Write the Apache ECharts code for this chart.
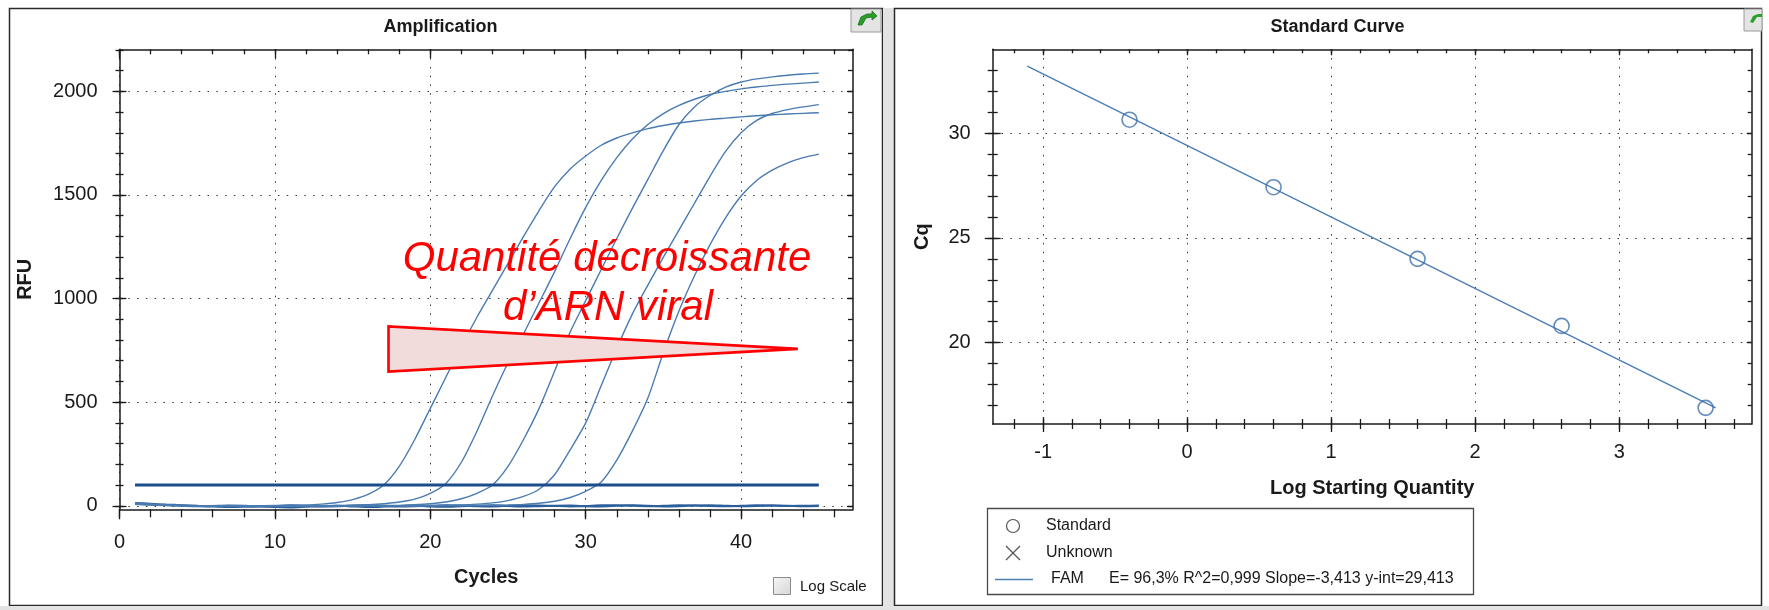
<!DOCTYPE html>
<html><head><meta charset="utf-8">
<script src="https://cdn.jsdelivr.net/npm/echarts@6/dist/echarts.min.js"></script>
<style>html,body{margin:0;padding:0;background:#fff;overflow:hidden}#c{width:1769px;height:610px}</style>
</head><body><div id="c"></div>
<script>
// ---------- Amplification data ----------
const cycles = [1,2,3,4,5,6,7,8,9,10,11,12,13,14,15,16,17,18,19,20,21,22,23,24,25,26,27,28,29,30,31,32,33,34,35,36,37,38,39,40,41,42,43,44,45];
const curve1 = [12,8,4,2,0,-2,-3,-2,-1,0, 1,3,8,16,30,55,100,190,320,470, 620,770,910,1040,1170,1300,1425,1540,1625,1688, 1740,1775,1800,1820,1835,1847,1857,1865,1871,1877, 1882,1887,1891,1894,1897];
const curve2 = [10,7,3,1,-1,-3,-2,-1,0,-1, -2,-1,0,1,2,5,10,18,32,60, 108,210,360,530,690,830,980,1130,1290,1440, 1570,1680,1770,1840,1893,1932,1962,1985,2000,2012, 2021,2029,2035,2040,2045];
const curve3 = [11,6,2,0,-2,-1,0,-2,-3,-2, 0,1,0,-1,0,1,1,2,5,10, 18,34,60,100,190,320,470,650,838,990, 1140,1290,1435,1575,1715,1840,1925,1980,2020,2045, 2060,2070,2078,2084,2088];
const curve4 = [9,6,3,1,0,-2,-3,-1,0,1, 0,-2,-1,0,1,0,-1,0,1,1, 2,4,8,14,25,45,80,150,270,400, 580,760,925,1065,1200,1330,1460,1590,1710,1800, 1860,1893,1912,1925,1936];
const curve5 = [10,7,4,2,0,-1,-2,-3,-2,0, 1,0,-2,-1,0,2,1,0,-1,0, 1,0,1,2,4,7,12,22,40,70, 115,220,360,520,740,940,1110,1260,1390,1495, 1570,1620,1655,1680,1697];
const ntcA = [14,10,6,3,0,-4,-6,-5,-3,-6, -8,-5,-2,0,-3,-6,-4,-1,0,-3, -5,-2,0,2,-1,-4,-2,0,1,-2, -3,0,2,0,-3,-2,1,3,0,-2, -1,1,0,-2,-1];
const ntcB = [8,5,2,0,-2,-1,1,0,-2,-1, 2,0,-3,-2,1,2,-1,-3,-2,0, 2,1,-2,-3,0,2,1,-1,-3,-1, 2,3,0,-2,0,2,1,-1,-2,0, 2,1,-1,0,1];
const thresholdRFU = 100;
const thresholdCycles = [1, 45];
const wedgeCorners = [[17.31, 866], [17.31, 648], [43.65, 757]];
const cycleTicks = [0, 10, 20, 30, 40];
const cycleMinorTicks = [0,2,4,6,8,10,12,14,16,18,20,22,24,26,28,30,32,34,36,38,40,42,44,46];
const rfuTicks = [0, 500, 1000, 1500, 2000];
const rfuMinorTicks = [0,100,200,300,400,500,600,700,800,900,1000,1100,1200,1300,1400,1500,1600,1700,1800,1900,2000,2100,2200];

// ---------- Standard curve data ----------
const logQuantity = [-0.4, 0.6, 1.6, 2.6, 3.6];
const cqValues = [30.64, 27.42, 24.0, 20.80, 16.89];
const fitLine = [[-1.11, 33.20], [3.67, 16.89]];
const logTicks = [-1, 0, 1, 2, 3];
const logMinorTicks = [-1.2,-1,-0.8,-0.6,-0.4,-0.2,0,0.2,0.4,0.6,0.8,1,1.2,1.4,1.6,1.8,2,2.2,2.4,2.6,2.8,3,3.2,3.4,3.6,3.8];
const cqTicks = [20, 25, 30];
const cqMinorTicks = [17,18,19,20,21,22,23,24,25,26,27,28,29,30,31,32,33];
const legendItems = ['Standard', 'Unknown', 'FAM'];
const fitText = 'E= 96,3% R^2=0,999 Slope=-3,413 y-int=29,413';

const FONT = '"Liberation Sans", Arial, sans-serif';
const TXT = '#1a1a1a';
const AX = '#1a1a1a';
const CURVE = '#4a7bb0';

function pairs(xs, ys) { return xs.map((x, i) => [x, ys[i]]); }
const dotted = { show: true, lineStyle: { color: '#333333', width: 1, type: [1.5, 7.3] } };
const fmt = v => String(v);

function tickAxis(grid, pos, r, vals, inside, len, line) {
  return { gridIndex: grid, type: 'value', position: pos, min: r.min, max: r.max,
    axisLine: { show: !!line, onZero: false, lineStyle: { color: AX, width: 1.5 } },
    axisTick: { show: true, inside: inside, length: len, customValues: vals, lineStyle: { color: AX, width: 1.3 } },
    axisLabel: { show: false }, splitLine: { show: false }, minorTick: { show: false } };
}

function axisSet(grid, xr, yr, o) {
  const xs = [], ys = [];
  xs.push({ gridIndex: grid, type: 'value', position: 'bottom', min: xr.min, max: xr.max,
    axisLine: { show: true, onZero: false, lineStyle: { color: AX, width: 1.5 } },
    axisTick: { show: true, inside: false, length: o.bottom[0], customValues: xr.major, lineStyle: { color: AX, width: 1.3 } },
    axisLabel: { show: true, customValues: xr.major, formatter: fmt, margin: o.xLabelMargin, fontSize: 20, color: TXT, fontFamily: FONT },
    splitLine: dotted, minorTick: { show: false },
    name: o.xName, nameLocation: 'middle', nameGap: o.xNameGap, nameMoveOverlap: false,
    nameTextStyle: { fontSize: 20, fontWeight: 'bold', color: TXT, fontFamily: FONT } });
  xs.push(tickAxis(grid, 'bottom', xr, xr.minor, false, o.bottom[1]));
  if (o.bottomIn) {
    xs.push(tickAxis(grid, 'bottom', xr, xr.major, true, o.bottomIn[0]));
    xs.push(tickAxis(grid, 'bottom', xr, xr.minor, true, o.bottomIn[1]));
  }
  xs.push(tickAxis(grid, 'top', xr, xr.major, true, o.top[0], true));
  xs.push(tickAxis(grid, 'top', xr, xr.minor, true, o.top[1]));

  ys.push({ gridIndex: grid, type: 'value', position: 'left', min: yr.min, max: yr.max,
    axisLine: { show: true, onZero: false, lineStyle: { color: AX, width: 1.5 } },
    axisTick: { show: true, inside: false, length: o.left[0], customValues: yr.major, lineStyle: { color: AX, width: 1.3 } },
    axisLabel: { show: true, customValues: yr.major, formatter: fmt, margin: 22, fontSize: 20, color: TXT, fontFamily: FONT },
    splitLine: dotted, minorTick: { show: false },
    name: o.yName, nameLocation: 'middle', nameGap: o.yNameGap, nameMoveOverlap: false,
    nameTextStyle: { fontSize: 20, fontWeight: 'bold', color: TXT, fontFamily: FONT } });
  ys.push(tickAxis(grid, 'left', yr, yr.minor, false, o.left[1]));
  ys.push(tickAxis(grid, 'left', yr, yr.major, true, o.left[2]));
  ys.push(tickAxis(grid, 'left', yr, yr.minor, true, o.left[3]));
  ys.push(tickAxis(grid, 'right', yr, yr.major, true, o.right[0], true));
  ys.push(tickAxis(grid, 'right', yr, yr.minor, true, o.right[1]));
  return { xs, ys };
}

const A = axisSet(0,
  { min: 0, max: 47.2, major: cycleTicks, minor: cycleMinorTicks },
  { min: -17, max: 2203, major: rfuTicks, minor: rfuMinorTicks },
  { bottom: [10, 8], xLabelMargin: 23, xName: 'Cycles', xNameGap: 58,
    top: [9, 5], left: [7, 4, 7, 4], right: [6, 5], yName: 'RFU', yNameGap: 84 });
const B = axisSet(1,
  { min: -1.35, max: 3.92, major: logTicks, minor: logMinorTicks },
  { min: 16.12, max: 34.0, major: cqTicks, minor: cqMinorTicks },
  { bottom: [8, 5], bottomIn: [7, 5], xLabelMargin: 18, xName: 'Log Starting Quantity', xNameGap: 54,
    top: [6, 4], left: [8, 5, 8, 5], right: [5, 4], yName: 'Cq', yNameGap: 60 });

const xAxis = A.xs.concat(B.xs);
const yAxis = A.ys.concat(B.ys);
const bX = A.xs.length, bY = A.ys.length;

const ampSeries = [curve1, curve2, curve3, curve4, curve5].map((c, i) => ({
  type: 'line', name: 'S' + (i + 1), xAxisIndex: 0, yAxisIndex: 0, data: pairs(cycles, c),
  showSymbol: false, symbol: 'none', smooth: 0.25, clip: true, silent: true,
  lineStyle: { color: CURVE, width: 1.4 }, z: 3 }));
const ntcSeries = [ntcA, ntcB].map((c, i) => ({
  type: 'line', name: 'NTC' + (i + 1), xAxisIndex: 0, yAxisIndex: 0, data: pairs(cycles, c),
  symbol: 'none', smooth: 0.25, silent: true, lineStyle: { color: '#2c5f9c', width: 2 }, z: 3 }));

const option = {
  animation: false,
  backgroundColor: '#ffffff',
  grid: [
    { left: 119.5, top: 49.3, width: 733.5, height: 460, outerBoundsMode: 'none', containLabel: false },
    { left: 992.7, top: 49.3, width: 759, height: 374.7, outerBoundsMode: 'none', containLabel: false }
  ],
  xAxis, yAxis,
  series: [
    ...ntcSeries,
    ...ampSeries,
    { type: 'line', name: 'threshold', xAxisIndex: 0, yAxisIndex: 0, symbol: 'none', silent: true,
      data: thresholdCycles.map(c => [c, thresholdRFU]), lineStyle: { color: '#1b4d8a', width: 3 }, z: 4 },
    { type: 'custom', name: 'wedge', xAxisIndex: 0, yAxisIndex: 0, silent: true, z: 5,
      data: [0],
      renderItem: (params, api) => ({
        type: 'polygon',
        shape: { points: wedgeCorners.map(p => api.coord(p)) },
        style: { fill: '#f2dcdb', stroke: '#ff0000', lineWidth: 2.6 }
      }) },
    { type: 'line', name: 'FAM', xAxisIndex: bX, yAxisIndex: bY, symbol: 'none', silent: true,
      data: fitLine, lineStyle: { color: '#4d7fb3', width: 1.5 }, z: 3 },
    { type: 'scatter', name: 'Standard', xAxisIndex: bX, yAxisIndex: bY, silent: true,
      data: pairs(logQuantity, cqValues), symbol: 'circle', symbolSize: 15,
      itemStyle: { color: 'rgba(255,255,255,0)', borderColor: '#3d70aa', borderWidth: 1.6 }, z: 4 }
  ],
  graphic: [
    { type: 'rect', shape: { x: 9.5, y: 8.5, width: 873, height: 597 }, style: { fill: 'none', stroke: '#2a2a2a', lineWidth: 1.5 }, z: 50 },
    { type: 'rect', shape: { x: 883, y: 8, width: 11, height: 598 }, style: { fill: '#e3e3e3' }, z: 50 },
    { type: 'rect', shape: { x: 894.5, y: 8.5, width: 867, height: 597 }, style: { fill: 'none', stroke: '#2a2a2a', lineWidth: 1.5 }, z: 50 },
    { type: 'rect', shape: { x: 0, y: 606, width: 1769, height: 4 }, style: { fill: '#e3e3e3' }, z: 50 },
    { type: 'rect', shape: { x: 851, y: 9, width: 30, height: 23 }, style: { fill: '#e4e4e4', stroke: '#9a9a9a', lineWidth: 1 }, z: 51 },
    { type: 'polygon', shape: { points: [[858,25],[861,17],[867,14],[872,14],[872,11],[877,16],[872,20],[872,17],[866,18],[862,25]] }, style: { fill: '#2aa02a', stroke: '#176d17', lineWidth: 0.8 }, z: 52 },
    { type: 'rect', shape: { x: 1744, y: 9, width: 18, height: 22 }, style: { fill: '#e4e4e4', stroke: '#9a9a9a', lineWidth: 1 }, z: 51 },
    { type: 'polygon', shape: { points: [[1750,22],[1753,16],[1758,14],[1762,14],[1762,17],[1757,17],[1753,23]] }, style: { fill: '#2aa02a' }, z: 52 },
    { type: 'text', x: 440.5, y: 27, style: { text: 'Amplification', font: 'bold 18px ' + FONT, fill: TXT, align: 'center', verticalAlign: 'middle' }, z: 60 },
    { type: 'text', x: 1337.5, y: 27, style: { text: 'Standard Curve', font: 'bold 18px ' + FONT, fill: TXT, align: 'center', verticalAlign: 'middle' }, z: 60 },
    { type: 'text', x: 607, y: 259, style: { text: 'Quantité décroissante', font: 'italic 42px ' + FONT, fill: '#ff0000', align: 'center', verticalAlign: 'middle' }, z: 60 },
    { type: 'text', x: 608, y: 308, style: { text: 'd’ARN viral', font: 'italic 42px ' + FONT, fill: '#ff0000', align: 'center', verticalAlign: 'middle' }, z: 60 },
    { type: 'rect', shape: { x: 773.5, y: 577.5, width: 17, height: 17 }, style: { fill: { type: 'linear', x: 0, y: 0, x2: 1, y2: 1, colorStops: [{ offset: 0, color: '#f6f6f6' }, { offset: 1, color: '#d6d6d6' }] }, stroke: '#8c8c8c', lineWidth: 1 }, z: 60 },
    { type: 'text', x: 800, y: 587, style: { text: 'Log Scale', font: '15px ' + FONT, fill: TXT, align: 'left', verticalAlign: 'middle' }, z: 60 },
    { type: 'rect', shape: { x: 987.5, y: 508.5, width: 486, height: 86 }, style: { fill: '#ffffff', stroke: '#4a4a4a', lineWidth: 1.3 }, z: 60 },
    { type: 'circle', shape: { cx: 1013, cy: 526, r: 6.5 }, style: { fill: 'none', stroke: '#555', lineWidth: 1.2 }, z: 61 },
    { type: 'text', x: 1046, y: 526, style: { text: legendItems[0], font: '16px ' + FONT, fill: TXT, verticalAlign: 'middle' }, z: 61 },
    { type: 'line', shape: { x1: 1006, y1: 546, x2: 1020, y2: 560 }, style: { stroke: '#555', lineWidth: 1.2 }, z: 61 },
    { type: 'line', shape: { x1: 1020, y1: 546, x2: 1006, y2: 560 }, style: { stroke: '#555', lineWidth: 1.2 }, z: 61 },
    { type: 'text', x: 1046, y: 553, style: { text: legendItems[1], font: '16px ' + FONT, fill: TXT, verticalAlign: 'middle' }, z: 61 },
    { type: 'line', shape: { x1: 995, y1: 579.5, x2: 1033, y2: 579.5 }, style: { stroke: '#4d7fb3', lineWidth: 1.5 }, z: 61 },
    { type: 'text', x: 1051, y: 579, style: { text: legendItems[2], font: '16px ' + FONT, fill: TXT, verticalAlign: 'middle' }, z: 61 },
    { type: 'text', x: 1109, y: 579, style: { text: fitText, font: '16px ' + FONT, fill: TXT, verticalAlign: 'middle' }, z: 61 }
  ]
};

const chart = echarts.init(document.getElementById('c'), null, { renderer: 'canvas', width: 1769, height: 610 });
chart.setOption(option);
</script>
</body></html>
